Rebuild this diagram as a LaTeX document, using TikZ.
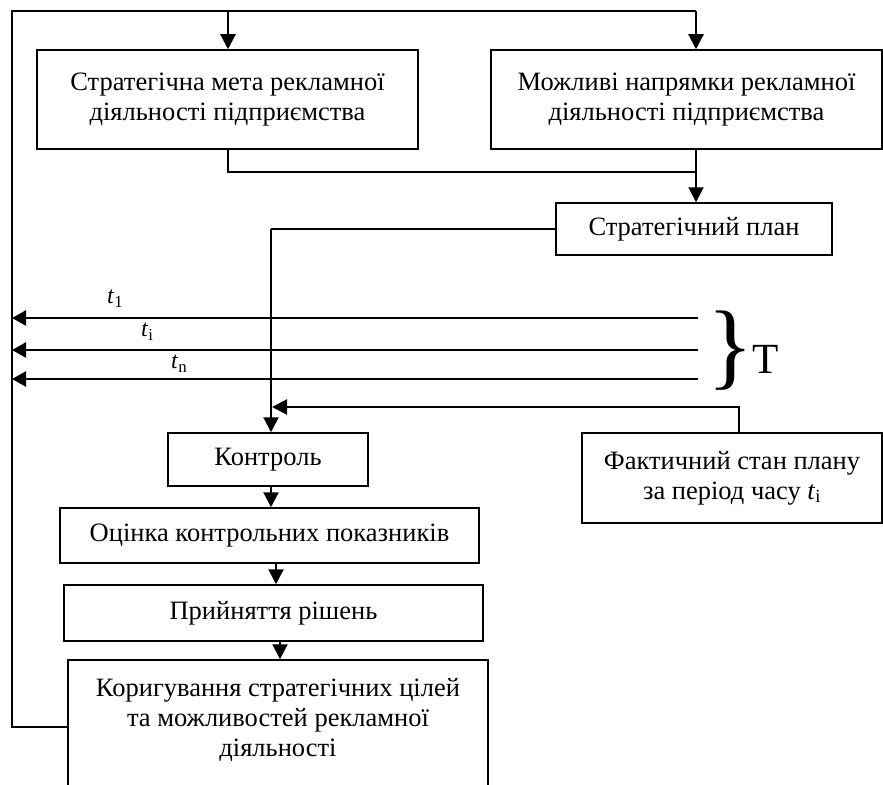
\documentclass[tikz,border=0pt]{standalone}
\usepackage{fontspec}
\setmainfont{Liberation Serif}
\usetikzlibrary{arrows.meta}
\begin{document}
\begin{tikzpicture}[x=1pt,y=-1pt,
  box/.style={draw,line width=1.5pt,inner sep=0pt,align=center,font=\fontsize{26.5}{30}\selectfont},
  ln/.style={line width=1.5pt},
  thin/.style={line width=1.3pt},
  arr/.style={line width=2.2pt,-{Triangle[length=15pt,width=15pt]}},
  tarr/.style={line width=2.6pt,-{Triangle[length=14pt,width=15pt]}},
  tlab/.style={font=\fontsize{24}{24}\selectfont, inner sep=0pt, anchor=west},
  txt/.style={align=center,inner sep=0pt,font=\fontsize{26.5}{30}\selectfont}]
\useasboundingbox (0,0) rectangle (883,784);

% boxes
\node[box,minimum width=381pt,minimum height=99pt] (b1) at (227.5,99.5) {Стратегічна мета рекламної\\діяльності підприємства};
\node[box,minimum width=391pt,minimum height=99pt] (b2) at (686.5,99.5) {Можливі напрямки рекламної\\діяльності підприємства};
\node[box,minimum width=276pt,minimum height=52pt] (b3) at (694,229) {Стратегічний план};
\node[box,minimum width=200pt,minimum height=53pt] (k) at (268,459.5) {Контроль};
\node[box,minimum width=300pt,minimum height=90pt] (f) at (732,478) {Фактичний стан плану\\за період часу \textit{t}\textsubscript{i}};
\node[box,minimum width=419pt,minimum height=55pt] (o) at (269.5,535.5) {Оцінка контрольних показників};
\node[box,minimum width=419pt,minimum height=56pt] (p) at (273.5,613) {Прийняття рішень};
\node[box,minimum width=420pt,minimum height=140pt] (kor) at (278,730) {};
\node[txt] (kort) at (278,720) {Коригування стратегічних цілей\\та можливостей рекламної\\діяльності};

% feedback loop
\coordinate (tl) at (12,11);
\coordinate (tr) at (696,11);
\draw[thin] (kor.west |- 0,727) -- (12,727) -- (tl) -- (tr);
\draw[arr] (228,11) -- (228,0 |- b1.north);
\draw[arr] (tr) -- (696,0 |- b2.north);

% merge to strategic plan
\coordinate (m1) at (228,172);
\coordinate (m2) at (696,172);
\draw[ln] (228,0 |- b1.south) -- (m1) -- (m2);
\draw[arr] (696,0 |- b2.south) -- (696,0 |- b3.north);

% plan to control
\coordinate (pc) at (271,229);
\draw[thin] (b3.west) -- (pc);
\draw[arr] (pc) -- (271,0 |- k.north);

% time arrows
\coordinate (t1r) at (698,318);
\coordinate (t2r) at (698,350);
\coordinate (t3r) at (698,379);
\draw[tarr] (t1r) -- (12,318);
\draw[tarr] (t2r) -- (12,350);
\draw[tarr] (t3r) -- (12,379);
\node[tlab] (lt1) at (107,299) {\textit{t}\textsubscript{1}};
\node[tlab] (lti) at (141,332) {\textit{t}\textsubscript{i}};
\node[tlab] (ltn) at (171,364) {\textit{t}\textsubscript{n}};
\node[inner sep=0pt,font=\fontsize{96}{96}\selectfont] (br) at (731,351) {\}};
\node[inner sep=0pt,anchor=base west,font=\fontsize{43}{43}\selectfont] (T) at (752,373) {T};

% actual state to control
\coordinate (fa) at (739,407);
\draw[arr] (739,0 |- f.north) -- (fa) -- (272,407);

% chain
\draw[arr] (271,0 |- k.south) -- (271,0 |- o.north);
\draw[arr] (276,0 |- o.south) -- (276,0 |- p.north);
\draw[arr] (280,0 |- p.south) -- (280,0 |- kor.north);
\end{tikzpicture}
\end{document}
